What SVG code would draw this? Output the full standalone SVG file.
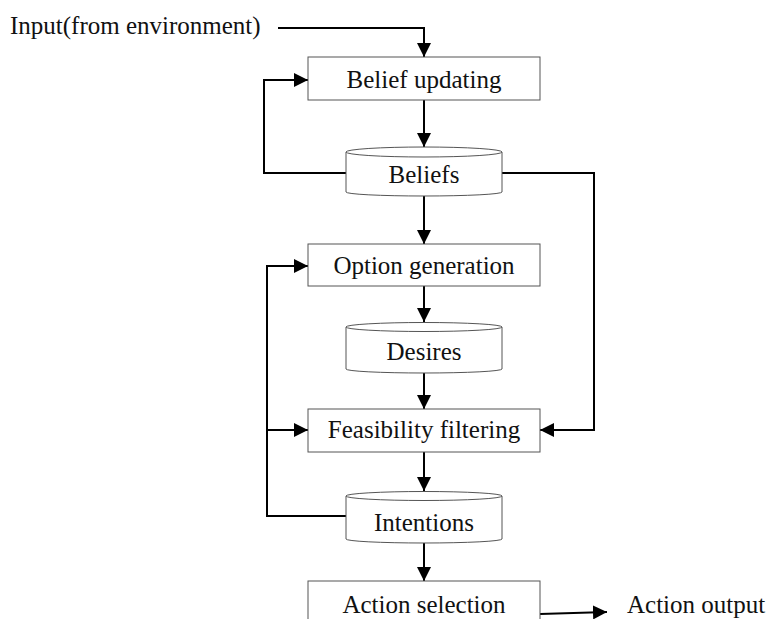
<svg xmlns="http://www.w3.org/2000/svg" width="769" height="619" viewBox="0 0 769 619">
  <style>
    .box { fill: #ffffff; stroke: #555555; stroke-width: 1; }
    .db { fill: #ffffff; stroke: #555555; stroke-width: 1; }
    .lbl { font-family: "Liberation Serif", "Times New Roman", serif; font-size: 25px; fill: #111111; text-anchor: middle; }
    .free { font-family: "Liberation Serif", "Times New Roman", serif; font-size: 25px; fill: #111111; }
    .wire { fill: none; stroke: #000000; stroke-width: 2; }
  </style>
  <defs>
    <marker id="arrow" markerUnits="userSpaceOnUse" markerWidth="15" markerHeight="14" refX="14" refY="7" orient="auto">
      <path d="M0,0 L14,7 L0,14 z" fill="#000000"/>
    </marker>
  </defs>

  <rect width="769" height="619" fill="#ffffff"/>

  <!-- connectors -->
  <g id="connectors" class="wire">
    <polyline points="278,28 424,28 424,57" marker-end="url(#arrow)"/>
    <line x1="424" y1="100" x2="424" y2="147" marker-end="url(#arrow)"/>
    <polyline points="346,173 264,173 264,80 308,80" marker-end="url(#arrow)"/>
    <polyline points="502,173 594,173 594,430 540,430" marker-end="url(#arrow)"/>
    <line x1="424" y1="196" x2="424" y2="244" marker-end="url(#arrow)"/>
    <line x1="424" y1="286" x2="424" y2="322" marker-end="url(#arrow)"/>
    <line x1="424" y1="373" x2="424" y2="409" marker-end="url(#arrow)"/>
    <line x1="424" y1="452" x2="424" y2="491" marker-end="url(#arrow)"/>
    <polyline points="346,516 267,516 267,266 308,266" marker-end="url(#arrow)"/>
    <line x1="267" y1="430" x2="308" y2="430" marker-end="url(#arrow)"/>
    <line x1="424" y1="542" x2="424" y2="581" marker-end="url(#arrow)"/>
    <line x1="540" y1="614" x2="607" y2="612" marker-end="url(#arrow)"/>
  </g>

  <!-- free-standing labels -->
  <text class="free" x="10" y="34">Input(from environment)</text>
  <text class="free" x="627" y="613">Action output</text>

  <!-- nodes -->
  <g id="belief-updating">
    <rect class="box" x="308" y="57" width="232" height="43"/>
    <text class="lbl" x="424" y="88">Belief updating</text>
  </g>

  <g id="beliefs">
    <path class="db" d="M346,152 V192 A78,4 0 0 0 502,192 V152 Z"/>
    <ellipse class="db" cx="424" cy="152" rx="78" ry="5"/>
    <text class="lbl" x="424" y="183">Beliefs</text>
  </g>

  <g id="option-generation">
    <rect class="box" x="308" y="244" width="232" height="42"/>
    <text class="lbl" x="424" y="274">Option generation</text>
  </g>

  <g id="desires">
    <path class="db" d="M346,327 V369 A78,4 0 0 0 502,369 V327 Z"/>
    <ellipse class="db" cx="424" cy="327" rx="78" ry="4.5"/>
    <text class="lbl" x="424" y="360">Desires</text>
  </g>

  <g id="feasibility-filtering">
    <rect class="box" x="308" y="409" width="232" height="43"/>
    <text class="lbl" x="424" y="438">Feasibility filtering</text>
  </g>

  <g id="intentions">
    <path class="db" d="M346,496 V539 A78,4 0 0 0 502,539 V496 Z"/>
    <ellipse class="db" cx="424" cy="496" rx="78" ry="4.5"/>
    <text class="lbl" x="424" y="531">Intentions</text>
  </g>

  <g id="action-selection">
    <rect class="box" x="308" y="581" width="232" height="45"/>
    <text class="lbl" x="424" y="613">Action selection</text>
  </g>
</svg>
